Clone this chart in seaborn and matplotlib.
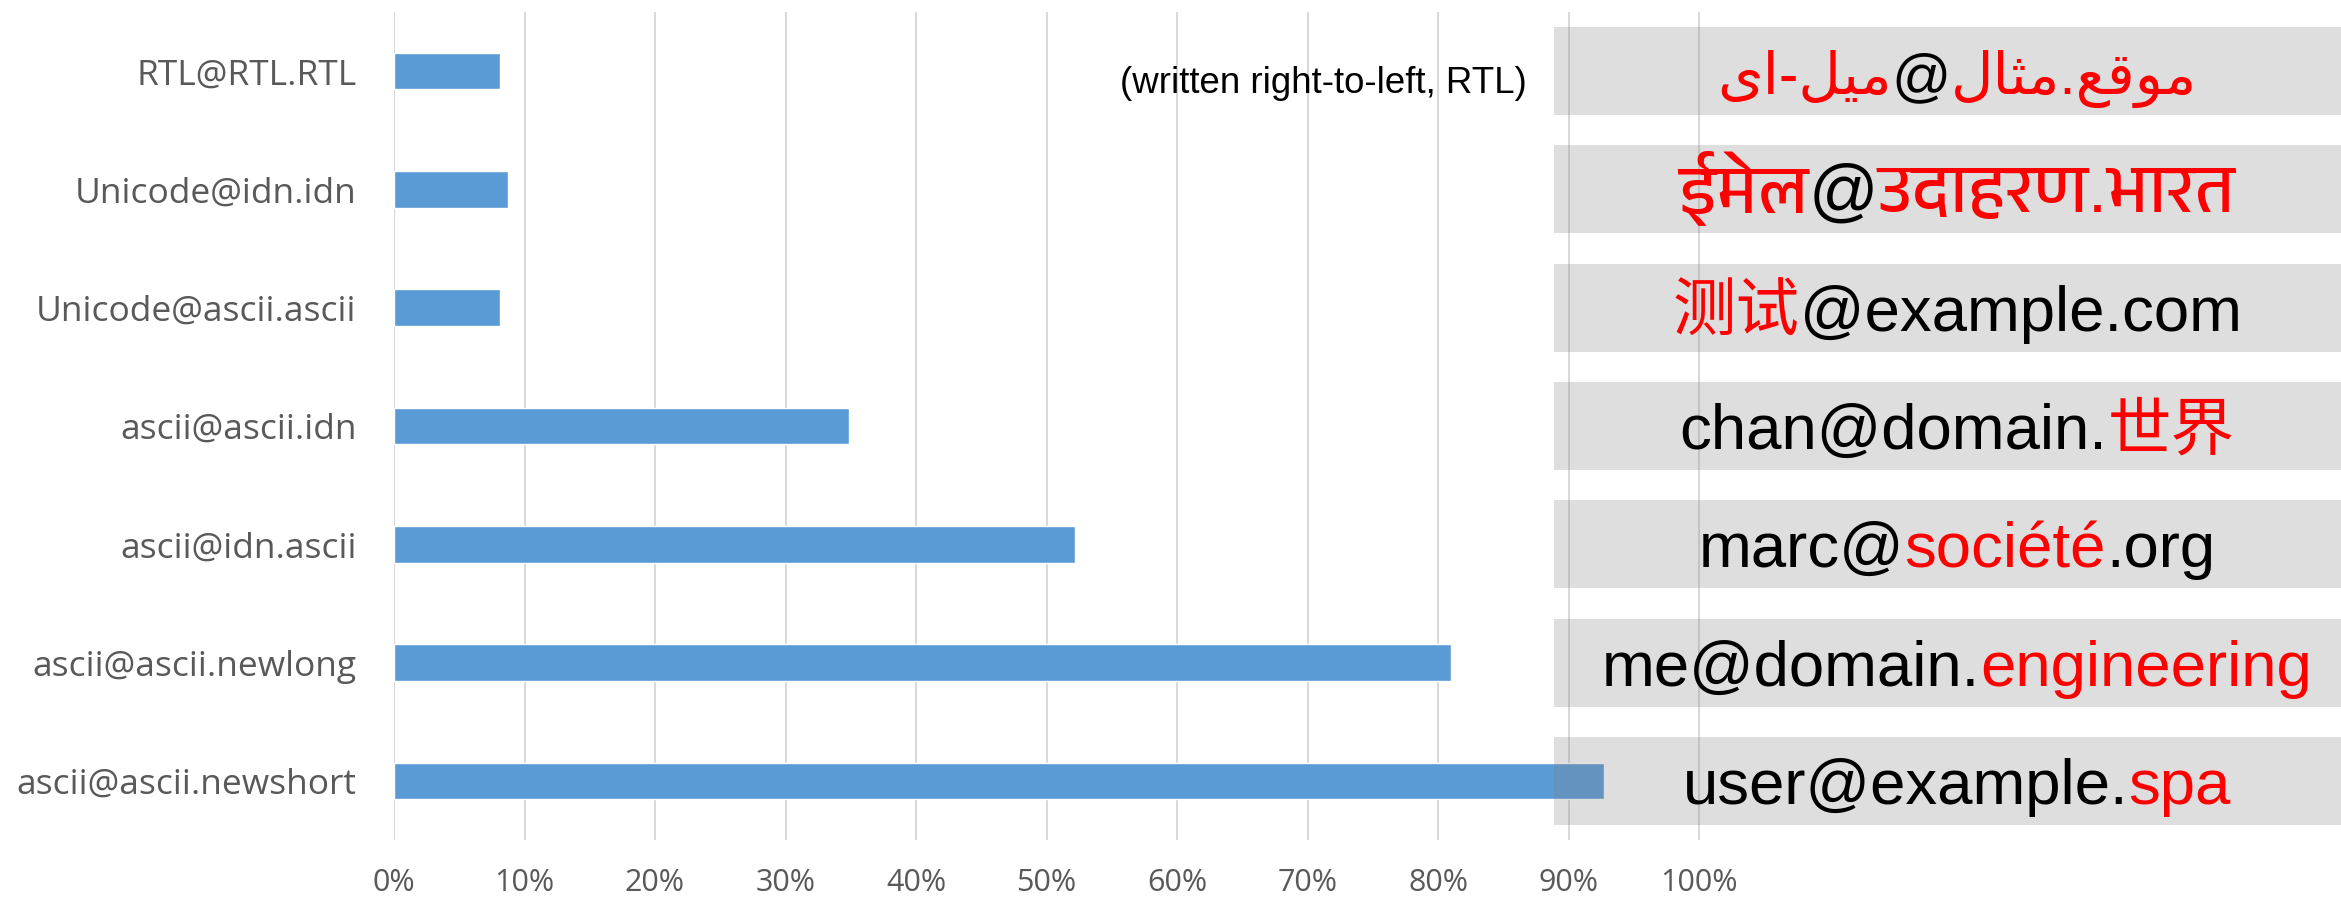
import matplotlib
matplotlib.use("Agg")
import numpy as np
import pandas as pd
import seaborn as sns
import matplotlib.pyplot as plt
from matplotlib import font_manager
from matplotlib.ft2font import FT2Font
from matplotlib.patches import Rectangle
from matplotlib.transforms import IdentityTransform

# ---------------- data ----------------
categories = ["RTL@RTL.RTL", "Unicode@idn.idn", "Unicode@ascii.ascii",
              "ascii@ascii.idn", "ascii@idn.ascii", "ascii@ascii.newlong",
              "ascii@ascii.newshort"]
shares = [0.081, 0.087, 0.081, 0.349, 0.522, 0.810, 0.927]
x_ticks = [0.0, 0.1, 0.2, 0.3, 0.4, 0.5, 0.6, 0.7, 0.8, 0.9, 1.0]
x_tick_labels = ["0%", "10%", "20%", "30%", "40%", "50%", "60%", "70%",
                 "80%", "90%", "100%"]
note_text = "(written right-to-left, RTL)"
# example addresses: (text, highlighted) segments in logical order
example_segments = [
    [("موقع.مثال", True), ("@", False), ("میل-ای", True)],
    [("ईमेल", True), ("@", False), ("उदाहरण.भारत", True)],
    [("测试", True), ("@example.com", False)],
    [("chan@domain.", False), ("世界", True)],
    [("marc@", False), ("société", True), (".org", False)],
    [("me@domain.", False), ("engineering", True)],
    [("user@example.", False), ("spa", True)],
]
example_rtl = [True, False, False, False, False, False, False]

# ---------------- fonts ----------------
def font_with(cp, name_hint=None):
    cands = list(font_manager.fontManager.ttflist)
    if name_hint:
        cands = sorted(cands, key=lambda f: 0 if name_hint.lower() in f.name.lower() else 1)
    for f in cands:
        try:
            if cp in FT2Font(f.fname).get_charmap():
                return f.name, f.fname
        except Exception:
            continue
    return None, None

deva_name, _ = font_with(0x0915, "Devanagari")
arab_name, arab_path = font_with(0xFEE3, "DejaVu")
arab_cmap = FT2Font(arab_path).get_charmap() if arab_path else {}

fam_list = ["Liberation Sans"]
if deva_name:
    fam_list.append(deva_name)
fam_list += ["Noto Sans CJK SC", "DejaVu Sans"]

# simple Arabic shaping to presentation forms
DUAL = {"م": (0xFEE1, 0xFEE2, 0xFEE3, 0xFEE4),
        "ق": (0xFED5, 0xFED6, 0xFED7, 0xFED8),
        "ع": (0xFEC9, 0xFECA, 0xFECB, 0xFECC),
        "ث": (0xFE99, 0xFE9A, 0xFE9B, 0xFE9C),
        "ل": (0xFEDD, 0xFEDE, 0xFEDF, 0xFEE0),
        "ی": (0xFBFC, 0xFBFD, 0xFBFE, 0xFBFF)}
RIGHT = {"ا": (0xFE8D, 0xFE8E), "و": (0xFEED, 0xFEEE)}
YEH_FALLBACK = (0xFEEF, 0xFEF0, 0xFEF3, 0xFEF4)

def shape(s):
    out = []
    for i, ch in enumerate(s):
        prev = s[i - 1] if i > 0 else ""
        nxt = s[i + 1] if i + 1 < len(s) else ""
        jp = prev in DUAL
        jn = ch in DUAL and (nxt in DUAL or nxt in RIGHT)
        if ch in DUAL:
            forms = DUAL[ch]
            if ch == "ی" and 0xFBFC not in arab_cmap:
                forms = YEH_FALLBACK
            idx = 3 if (jp and jn) else 1 if jp else 2 if jn else 0
            out.append(chr(forms[idx]))
        elif ch in RIGHT:
            out.append(chr(RIGHT[ch][1 if jp else 0]))
        else:
            out.append(ch)
    return out

# ---------------- plot ----------------
sns.set_theme(style="white")
plt.rcParams["font.family"] = ["Open Sans", "DejaVu Sans"]

W, H = 2341, 901
fig = plt.figure(figsize=(W / 100, H / 100), dpi=100)
ax = fig.add_axes([394 / W, 61 / H, (W - 394) / W, 828 / H])

df = pd.DataFrame({"category": categories, "share": shares})
sns.barplot(data=df, x="share", y="category", orient="h", color="#5B9BD5",
            saturation=1, width=0.31, ax=ax, zorder=2)

ax.set_xlim(0, (W - 394) / 1305)
ax.set_ylim(6.5, -0.5)
ax.set_xticks(x_ticks)
ax.set_xticklabels(x_tick_labels)
ax.set_xlabel("")
ax.set_ylabel("")
for sp in ax.spines.values():
    sp.set_visible(False)
ax.grid(axis="x", color="#D9D9D9", linewidth=1.45)
ax.grid(axis="y", visible=False)
ax.set_axisbelow(True)
ax.tick_params(axis="both", length=0)
ax.tick_params(axis="y", pad=27, labelsize=25.5, labelcolor="#595959")
ax.tick_params(axis="x", pad=20, labelsize=22, labelcolor="#595959")

# grey boxes behind example addresses
for i in range(len(categories)):
    ax.add_patch(Rectangle((0.889, i - 0.372), 1.0, 0.744, facecolor="#7F7F7F",
                           alpha=0.25, edgecolor="none", zorder=3))

fig.canvas.draw()
renderer = fig.canvas.get_renderer()

FS = 45.7
row_scale = {0: 0.92, 1: 1.08}
XC = 1957
for i, segs in enumerate(example_segments):
    chars, cols = [], []
    for txt, hi in segs:
        for ch in txt:
            chars.append(ch)
            cols.append("#FF0000" if hi else "#000000")
    if example_rtl[i]:
        chars = shape("".join(chars))[::-1]
        cols = cols[::-1]
    runs = []
    for ch, c in zip(chars, cols):
        if runs and runs[-1][1] == c:
            runs[-1][0] += ch
        else:
            runs.append([ch, c])
    _, yc = ax.transData.transform((0, i))
    yb = yc - 23
    fs = FS * row_scale.get(i, 1.0)
    texts, widths = [], []
    for txt, c in runs:
        t = fig.text(0, yb, txt, transform=IdentityTransform(), color=c,
                     fontsize=fs, family=fam_list, ha="left", va="baseline",
                     zorder=5)
        texts.append(t)
        widths.append(t.get_window_extent(renderer).width)
    x = XC - sum(widths) / 2
    for t, w in zip(texts, widths):
        t.set_x(x)
        x += w

_, y0 = ax.transData.transform((0, 0))
fig.text(1323.5, y0 - 22, note_text, transform=IdentityTransform(),
         fontsize=26.4, family=["Liberation Sans", "DejaVu Sans"],
         color="#000000", ha="center", va="baseline")

fig.savefig("out.png", dpi=100)
